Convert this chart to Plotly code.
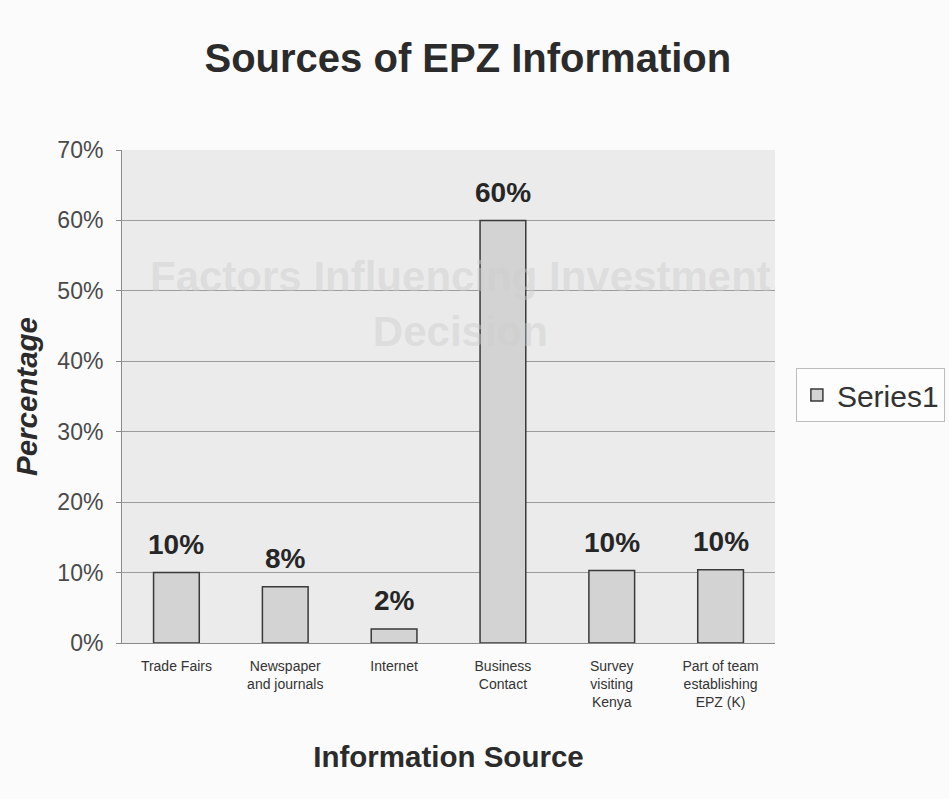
import plotly.graph_objects as go

categories = ["Trade Fairs", "Newspaper<br>and journals", "Internet", "Business<br>Contact",
              "Survey<br>visiting<br>Kenya", "Part of team<br>establishing<br>EPZ (K)"]
values = [10.0, 8.0, 2.0, 60.0, 10.3, 10.4]
labels = ["10%", "8%", "2%", "60%", "10%", "10%"]
y_ticks = [0, 10, 20, 30, 40, 50, 60, 70]
y_tick_labels = ["0%", "10%", "20%", "30%", "40%", "50%", "60%", "70%"]

font = "Liberation Sans"

fig = go.Figure()
fig.add_trace(go.Bar(
    x=categories, y=values, name="Series1",
    marker=dict(color="#d3d3d3", line=dict(color="#3a3a3a", width=1.5)),
))

# faint bleed-through text visible in the scanned original
fig.add_annotation(x=0.518, xref="paper", y=0.795, yref="paper",
                   text="<b>Factors Influencing Investment<br>Decision</b>",
                   showarrow=False,
                   font=dict(family=font, size=42, color="rgba(205,205,205,0.45)"))

# data labels above bars
for c, v, t in zip(categories, values, labels):
    fig.add_annotation(x=c, y=v, text="<b>" + t + "</b>", showarrow=False,
                       yanchor="middle", yshift=28,
                       font=dict(family=font, size=28, color="#262626"))

fig.update_layout(
    width=949, height=799,
    margin=dict(l=122, r=174, t=150, b=156, autoexpand=False),
    paper_bgcolor="#fbfbfb", plot_bgcolor="#ebebeb",
    bargap=0.58,
    showlegend=True,
    title=dict(text="<b>Sources of EPZ Information</b>", x=0.493, xanchor="center",
               y=0.927, yanchor="middle",
               font=dict(family=font, size=40, color="#2b2b2b")),
    legend=dict(x=1.032, xanchor="left", y=0.503, yanchor="middle",
                bgcolor="#fdfdfd", bordercolor="#bdbdbd", borderwidth=1,
                font=dict(family=font, size=30, color="#333333")),
    xaxis=dict(
        title=dict(text="<b>Information Source</b>", standoff=37,
                   font=dict(family=font, size=29.5, color="#2b2b2b")),
        tickfont=dict(family=font, size=14, color="#333333"),
        ticklabelstandoff=10,
        showline=True, linecolor="#8a8a8a", linewidth=1,
        ticks="outside", ticklen=0, tickangle=0,
    ),
    yaxis=dict(
        title=dict(text="<b><i>Percentage</i></b>", standoff=11,
                   font=dict(family=font, size=29.5, color="#2b2b2b")),
        range=[0, 70], tickvals=y_ticks, ticktext=y_tick_labels,
        tickfont=dict(family=font, size=23, color="#4a4a4a"),
        ticklabelstandoff=8,
        showgrid=True, gridcolor="#9c9c9c", gridwidth=1,
        showline=True, linecolor="#8a8a8a", linewidth=1,
        ticks="outside", ticklen=5, tickcolor="#8a8a8a",
        zeroline=False,
    ),
)

fig.write_html("out.html")
